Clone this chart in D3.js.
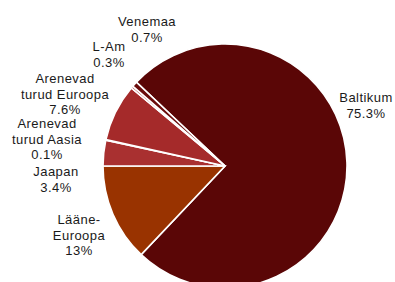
<!DOCTYPE html>
<html>
<head>
<meta charset="utf-8">
<script src="https://cdn.jsdelivr.net/npm/d3@7"></script>
<style>
  html, body { margin: 0; padding: 0; background: #fff; }
  text { font-family: "Liberation Sans", Arial, sans-serif; font-size: 13px; fill: #1a1a1a; letter-spacing: 0.45px; }
</style>
</head>
<body>
<svg id="chart" width="395" height="282"></svg>
<script>
// slices, in drawing order (clockwise)
const categories = ["Baltikum", "Lääne-Euroopa", "Jaapan", "Arenevad turud Aasia", "Arenevad turud Euroopa", "L-Am", "Venemaa"];
const values = [75.3, 13, 3.4, 0.1, 7.6, 0.3, 0.7];
const valueLabels = ["75.3%", "13%", "3.4%", "0.1%", "7.6%", "0.3%", "0.7%"];
const labelLines = [["Baltikum"], ["Lääne-", "Euroopa"], ["Jaapan"], ["Arenevad", "turud Aasia"], ["Arenevad", "turud Euroopa"], ["L-Am"], ["Venemaa"]];

// layout
const colors = ["#5a0606", "#993300", "#a93030", "#a93030", "#a52a2a", "#b23a3a", "#6b0b0b"];
const labelPos = [[366, 102], [79, 224], [56, 176], [47, 128], [65, 83], [109, 51], [147, 26]];
const cx = 225, cy = 166, radius = 122, lineH = 15.7;

const svg = d3.select("#chart");

const pie = d3.pie()
	.sort(null)
	.value(d => d)
	.startAngle(-46.6 * Math.PI / 180)
	.endAngle((360 - 46.6) * Math.PI / 180);

const arc = d3.arc()
	.innerRadius(0)
	.outerRadius(radius);

const g = svg.append("g")
	.attr("transform", `translate(${cx},${cy})`);

g.selectAll("path")
	.data(pie(values))
	.enter()
	.append("path")
	.attr("d", arc)
	.attr("fill", (d, i) => colors[i])
	.attr("stroke", "#fff")
	.attr("stroke-width", 1.6)
	.attr("stroke-linejoin", "miter");

const labels = svg.selectAll("text.lbl")
	.data(categories)
	.enter()
	.append("text")
	.attr("class", "lbl")
	.attr("text-anchor", "middle")
	.attr("x", (d, i) => labelPos[i][0])
	.attr("y", (d, i) => labelPos[i][1]);

labels.each((d, i, n) => {
	const t = d3.select(n[i]);
	const lines = labelLines[i].concat([valueLabels[i]]);
	lines.forEach((line, j) => {
		t.append("tspan")
			.attr("x", labelPos[i][0])
			.attr("dy", j === 0 ? 0 : lineH)
			.text(line);
	});
});
</script>
</body>
</html>
